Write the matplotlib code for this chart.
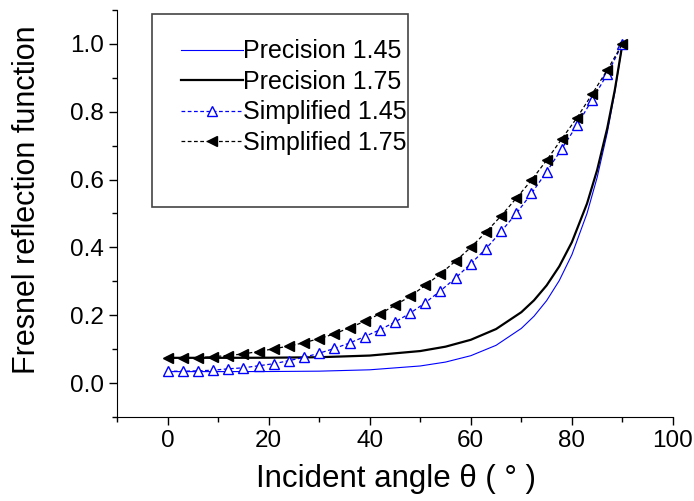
import matplotlib.pyplot as plt
from matplotlib.ticker import MultipleLocator
from matplotlib.patches import Rectangle

# precision (exact) curves
ang_p = [0, 10, 20, 30, 40, 50, 55, 60, 65, 70, 72.5, 75, 77.5, 80, 83, 85, 87, 88.5, 90]
prec145 = [0.0337, 0.0338, 0.0340, 0.0351, 0.0391, 0.0504, 0.0619, 0.0807, 0.1113, 0.1612,
           0.1970, 0.2430, 0.3021, 0.3784, 0.5005, 0.6065, 0.7381, 0.8579, 1.0]
prec175 = [0.0744, 0.0744, 0.0747, 0.0762, 0.0811, 0.0944, 0.1073, 0.1276, 0.1593, 0.2090,
           0.2439, 0.2879, 0.3439, 0.4155, 0.5295, 0.6283, 0.7516, 0.8647, 1.0]

# simplified curves, one marker every 3 degrees
ang_s = [0, 3, 6, 9, 12, 15, 18, 21, 24, 27, 30, 33, 36, 39, 42, 45, 48, 51, 54, 57,
         60, 63, 66, 69, 72, 75, 78, 81, 84, 87, 90]
simp145 = [0.035, 0.035, 0.036, 0.038, 0.042, 0.045, 0.051, 0.057, 0.066, 0.076, 0.088,
           0.102, 0.118, 0.137, 0.157, 0.180, 0.206, 0.237, 0.272, 0.310, 0.352, 0.396,
           0.447, 0.500, 0.559, 0.623, 0.691, 0.760, 0.835, 0.911, 1.0]
simp175 = [0.074, 0.074, 0.075, 0.078, 0.081, 0.086, 0.093, 0.101, 0.109, 0.119, 0.131,
           0.145, 0.163, 0.182, 0.204, 0.229, 0.256, 0.288, 0.322, 0.360, 0.400, 0.445,
           0.493, 0.545, 0.598, 0.657, 0.720, 0.782, 0.852, 0.923, 1.0]

plt.rcParams['font.family'] = ['Liberation Sans', 'DejaVu Sans']

fig = plt.figure(figsize=(6.94, 5.01), dpi=100)
ax = fig.add_axes([0.1686, 0.1677, 0.8011, 0.8124])

ax.plot(ang_p, prec145, color='#0000ff', lw=0.8, label='Precision 1.45')
ax.plot(ang_p, prec175, color='black', lw=1.6, label='Precision 1.75')
ax.plot(ang_s, simp145, color='#0000ff', lw=0.9, ls=(0, (3, 2)), marker='^', ms=7.5,
        mfc='white', mec='#0000ff', mew=1.0, label='Simplified 1.45')
ax.plot(ang_s, simp175, color='black', lw=0.9, ls=(0, (3, 2)), marker='<', ms=7.5,
        mfc='black', mec='black', label='Simplified 1.75')

ax.set_xlim(-10, 100)
ax.set_ylim(-0.1, 1.1)
ax.xaxis.set_major_locator(MultipleLocator(20))
ax.xaxis.set_minor_locator(MultipleLocator(10))
ax.yaxis.set_major_locator(MultipleLocator(0.2))
ax.yaxis.set_minor_locator(MultipleLocator(0.1))
ax.spines['top'].set_visible(False)
ax.spines['right'].set_visible(False)
ax.tick_params(which='major', direction='out', length=6, width=1)
ax.tick_params(which='minor', direction='out', length=3.5, width=1)
ax.set_xticks([0, 20, 40, 60, 80, 100])
ax.set_xticklabels(['0', '20', '40', '60', '80', '100'], fontsize=17.5)
ax.set_yticks([0.0, 0.2, 0.4, 0.6, 0.8, 1.0])
ax.set_yticklabels(['0.0', '0.2', '0.4', '0.6', '0.8', '1.0'], fontsize=17.5)

ax.set_xlabel('Incident angle θ ( ° )', fontsize=22.5)
ax.set_ylabel('Fresnel reflection function', fontsize=22)
ax.xaxis.set_label_coords(0.502, -0.115)
ax.yaxis.set_label_coords(-0.135, 0.533)

leg = fig.legend(loc='upper left', bbox_to_anchor=(168 / 694, 1 - 27 / 501), frameon=False,
                 fontsize=18, handlelength=2.5, handletextpad=0.0, borderpad=0,
                 labelspacing=0.26, numpoints=1)
fig.add_artist(Rectangle((152 / 694, 1 - 207 / 501), 256 / 694, 193 / 501,
                         transform=fig.transFigure, fill=False, ec='#444444', lw=1.2))

fig.savefig('out.png', dpi=100)
